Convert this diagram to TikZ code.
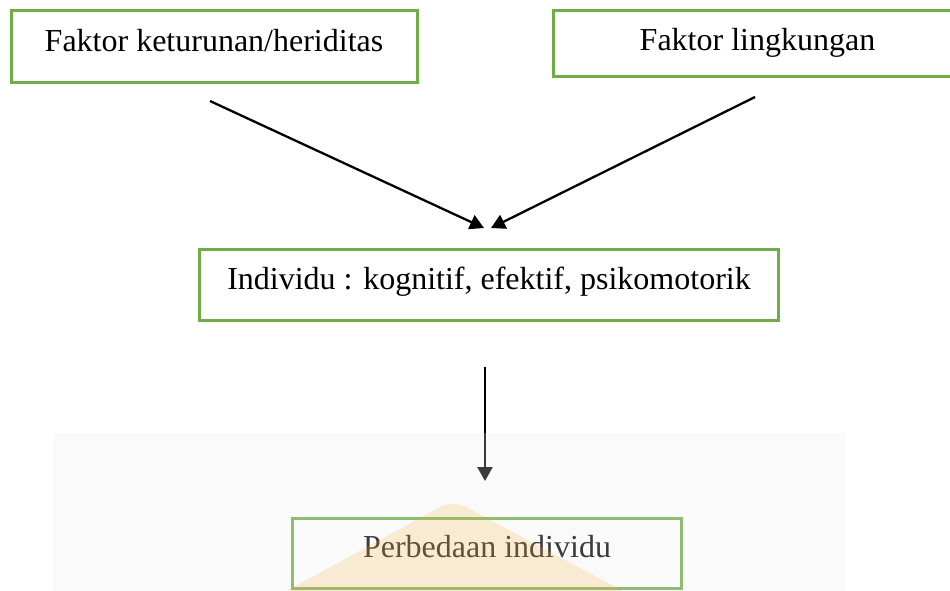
\documentclass[tikz,border=0pt]{standalone}
\usepackage{fontspec}
\setmainfont{Liberation Serif}
\usetikzlibrary{arrows.meta}
\definecolor{boxgreen}{RGB}{112,173,71}
\definecolor{wmgray}{RGB}{236,236,236}
\definecolor{wmyellow}{RGB}{240,176,48}
\tikzset{
  box/.style={draw=boxgreen, line width=3pt, rectangle, inner sep=0pt,
    font=\fontsize{32}{38}\selectfont, text height=22pt, text=black},
  conn/.style={line width=2.3pt, draw=black,
    -{Triangle[length=14pt,width=15pt]}}
}
\begin{document}
\begin{tikzpicture}[x=1pt,y=-1pt]
\clip (0,0) rectangle (950,590);
\fill[white] (0,0) rectangle (950,590);
% boxes
\node[box, minimum width=406pt, minimum height=72pt, text depth=13pt] (heredity) at (214,46.5) {Faktor keturunan/heriditas};
\node[box, minimum width=408pt, minimum height=66pt, text depth=9pt] (environment) at (757.5,43.5) {Faktor lingkungan};
\node[box, minimum width=579pt, minimum height=71pt, text depth=14pt] (individual) at (489,285) {Individu : kognitif, efektif, psikomotorik};
\node[box, minimum width=389pt, minimum height=70pt, text depth=15pt] (difference) at (487,553.5) {Perbedaan individu};
% connector end points
\coordinate (hStart) at (210,101);
\coordinate (hEnd) at (484,228);
\coordinate (eStart) at (755,97);
\coordinate (eEnd) at (491,228);
\coordinate (iStart) at (485,367);
\coordinate (iEnd) at (485,481);
\draw[conn] (hStart) -- (hEnd);
\draw[conn] (eStart) -- (eEnd);
\draw[conn, line width=2.5pt] (iStart) -- (iEnd);
% watermark overlay
\fill[wmgray, opacity=0.25] (53,433) rectangle (845,600);
\fill[wmyellow, opacity=0.2, rounded corners=14pt] (453,500) -- (270,600) -- (640,600) -- cycle;
\end{tikzpicture}
\end{document}
